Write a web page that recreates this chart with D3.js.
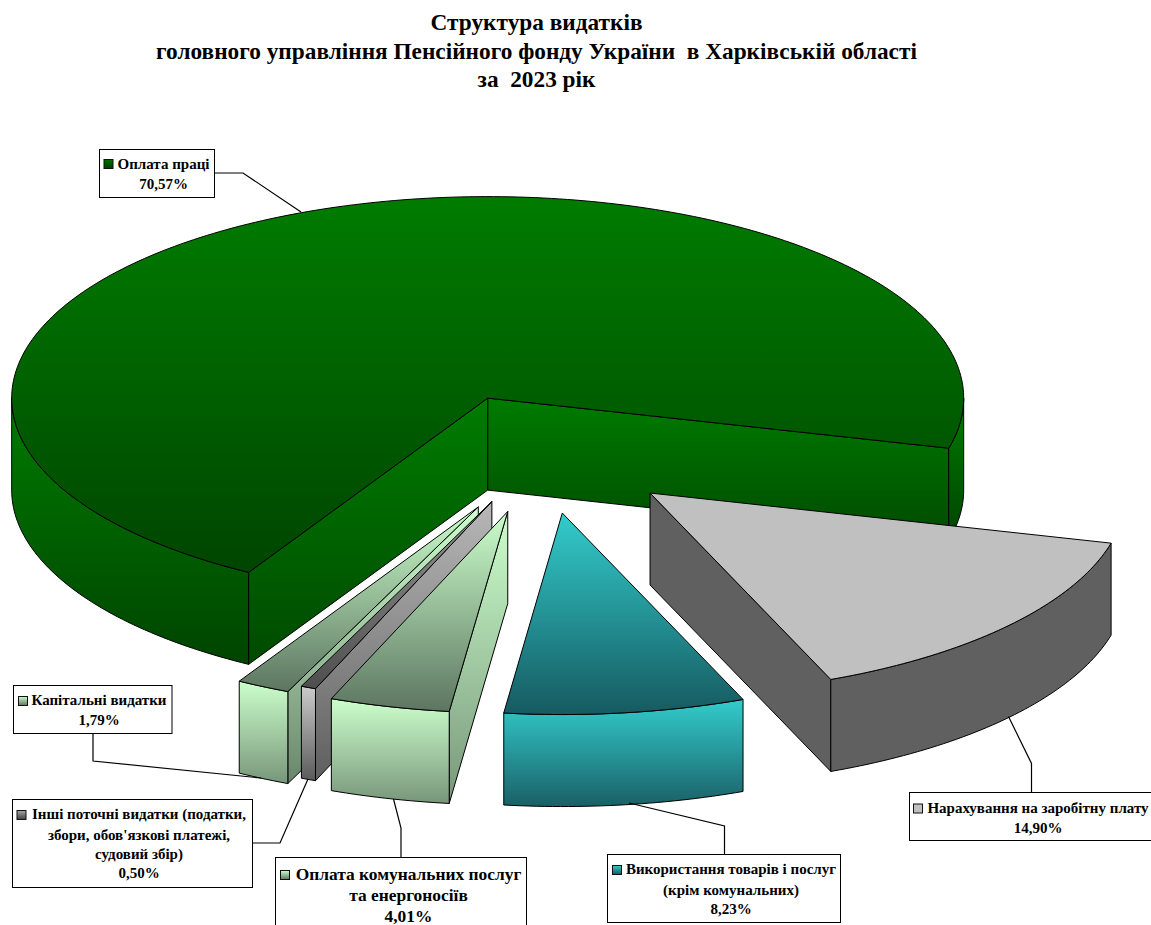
<!DOCTYPE html>
<html lang="uk">
<head>
<meta charset="utf-8">
<style>
html,body{margin:0;padding:0;background:#fff;overflow:hidden}
svg{display:block}
text{font-family:"Liberation Serif","Times New Roman",serif;font-weight:bold;fill:#000;white-space:pre}
</style>
<script src="https://cdn.jsdelivr.net/npm/d3@7"></script>
</head>
<body>
<svg id="chart" width="1151" height="925"></svg>
<script>
// ---- data ----
const titleLines = ["Структура видатків","головного управління Пенсійного фонду України  в Харківській області","за  2023 рік"];
const categories = ["Оплата праці","Нарахування на заробітну плату","Використання товарів і послуг (крім комунальних)","Оплата комунальних послуг та енергоносіїв","Інші поточні видатки (податки, збори, обов'язкові платежі, судовий збір)","Капітальні видатки"];
const values = [70.57,14.90,8.23,4.01,0.50,1.79];
const valueLabels = ["70,57%","14,90%","8,23%","4,01%","0,50%","1,79%"];

// ---- layout / style ----
const labelLines = [
  ["Оплата праці"],
  ["Нарахування на заробітну плату"],
  ["Використання товарів і послуг","(крім комунальних)"],
  ["Оплата комунальних послуг","та енергоносіїв"],
  ["Інші поточні видатки (податки,","збори, обов'язкові платежі,","судовий збір)"],
  ["Капітальні видатки"]
];
const explodeFactor = [1,1,1,1,0.87,1];
const explodeNudgeX = [-1.8,-2,0,0,-4,-1];
const firstSliceEndDeg = 104.4; // clockwise from 12 o'clock
const frontWarpDeg = 0.65;      // slight foreshortening of the front rim
const pieCx=544.5, pieCy=453.5, rx=476, ry=201.5, depth=92, explodeX=143, explodeY=60;
const styles = [
 {top:["#007c00","#004500"],wall:["#007c00","#004400"],face:["#007c00","#004a00"],key:["#007000","#003c00"]},
 {top:["#c0c0c0","#c0c0c0"],wall:["#606060","#606060"],face:["#606060","#606060"],key:["#c0c0c0","#c0c0c0"]},
 {top:["#33cccc","#155a60"],wall:["#33cccc","#1a6066"],face:["#33cccc","#1a6066"],key:["#33cccc","#155a60"]},
 {top:["#ccffcc","#5c7560"],wall:["#ccffcc","#78967a"],face:["#ccffcc","#78967a"],key:["#ccffcc","#5c7560"]},
 {top:["#969696","#4e4e4e"],wall:["#cccccc","#5a5a5a"],face:["#b8b8b8","#5e5e5e"],key:["#a8a8a8","#404040"]},
 {top:["#ccffcc","#5c7560"],wall:["#ccffcc","#78967a"],face:["#ccffcc","#6a866c"],key:["#ccffcc","#5c7560"]}
];
const boxes = [
 {x:99,y:149,w:115,h:48,cx:163.5,ys:[164,184],key:[103.5,159],fs:15},
 {x:909.5,y:792,w:260,h:48,cx:1038,ys:[808,828],key:[913,803.5],fs:15},
 {x:607.5,y:854,w:233,h:68,cx:731,ys:[869,890,909],key:[612,865],fs:15},
 {x:275.5,y:857,w:251,h:90,cx:408.5,ys:[874,895,916],key:[280,870],fs:17.4},
 {x:12,y:799,w:240,h:88,cx:139,ys:[814,835,854,873],key:[16.5,810],fs:15},
 {x:13,y:685,w:158.5,h:48,cx:99,ys:[700,720],key:[18,696],fs:15}
];
const leaders = [
 [[214,173],[243,173],[301,212]],
 [[1031.5,792],[1031.5,763.5],[1008.5,716.5]],
 [[724.5,854],[724.5,826],[629,803]],
 [[401,857],[401,828],[393.5,799]],
 [[252,843],[280,843],[308,779]],
 [[93,733],[93,761],[261,778]]
];
const drawOrder = [0,5,4,3,2,1];

// ---- build ----
const svg = d3.select("#chart");
const defs = svg.append("defs");
const deg = Math.PI/180;
const startD3 = (firstSliceEndDeg-values[0]*3.6)*deg;
const arcs = d3.pie().sort(null).value(d=>d).startAngle(startD3).endAngle(startD3+2*Math.PI)(values);
const toTheta = a => a-Math.PI/2;
const warp = t => t-frontWarpDeg*deg*Math.pow(Math.max(0,Math.sin(t)),8);
const line = d3.line();
let gid=0;
function grad(cols){
  const id="g"+(gid++);
  const g=defs.append("linearGradient").attr("id",id).attr("x1",0).attr("y1",0).attr("x2",0).attr("y2",1);
  g.append("stop").attr("offset",0).attr("stop-color",cols[0]);
  g.append("stop").attr("offset",1).attr("stop-color",cols[1]);
  return `url(#${id})`;
}
function rim(a,b,ox,oy,dy){
  const n=Math.max(4,Math.ceil((b-a)/deg));
  return d3.range(n+1).map(i=>{const t=a+(b-a)*i/n;return [ox+rx*Math.cos(t),oy+ry*Math.sin(t)+dy];});
}
const pg = svg.append("g");
drawOrder.forEach(i=>{
  const d=arcs[i], a0=toTheta(d.startAngle), b0=toTheta(d.endAngle), mid=(a0+b0)/2, st=styles[i];
  const a=warp(a0), b=warp(b0);
  const f=explodeFactor[i];
  const ox=pieCx+explodeX*f*Math.cos(mid)+explodeNudgeX[i];
  const oy=pieCy+explodeY*f*Math.sin(mid);
  const g=pg.append("g").attr("stroke","#000").attr("stroke-width",1).attr("stroke-linejoin","round");
  const face=t=>{
    const e=[ox+rx*Math.cos(t),oy+ry*Math.sin(t)];
    g.append("path").attr("d",line([[ox,oy],e,[e[0],e[1]+depth],[ox,oy+depth]])+"Z").attr("fill",grad(st.face));
  };
  if(Math.cos(b)>0) face(b);
  if(Math.cos(a)<0) face(a);
  // outer wall: the front half of the rim only
  [-2,0,2].forEach(k=>{
    const lo=Math.max(a,k*Math.PI), hi=Math.min(b,k*Math.PI+Math.PI);
    if(hi>lo){
      const up=rim(lo,hi,ox,oy,0), dn=rim(lo,hi,ox,oy,depth).reverse();
      g.append("path").attr("d",line(up.concat(dn))+"Z").attr("fill",grad(st.wall));
    }
  });
  g.append("path").attr("d",line([[ox,oy]].concat(rim(a,b,ox,oy,0)))+"Z").attr("fill",grad(st.top));
});

// leader lines
svg.append("g").selectAll("path").data(leaders).join("path")
  .attr("d",d=>line(d)).attr("fill","none").attr("stroke","#000").attr("stroke-width",1.2);

// label boxes
boxes.forEach((b,i)=>{
  const g=svg.append("g");
  g.append("rect").attr("x",Math.floor(b.x)+.5).attr("y",Math.floor(b.y)+.5).attr("width",b.w).attr("height",b.h)
    .attr("fill","#fff").attr("stroke","#000");
  g.append("rect").attr("x",b.key[0]+.5).attr("y",b.key[1]+.5).attr("width",9).attr("height",9)
    .attr("fill",grad(styles[i].key)).attr("stroke","#111");
  labelLines[i].concat([valueLabels[i]]).forEach((t,j)=>{
    g.append("text").attr("x",b.cx).attr("y",b.ys[j]).attr("dy","0.33em").attr("text-anchor","middle")
      .style("font-size",b.fs+"px").text(t);
  });
});

// title
svg.append("g").selectAll("text").data(titleLines).join("text")
  .attr("x",536.5).attr("y",(d,i)=>30+i*28.5).attr("text-anchor","middle").style("font-size","23.3px").text(d=>d);
</script>
</body>
</html>
